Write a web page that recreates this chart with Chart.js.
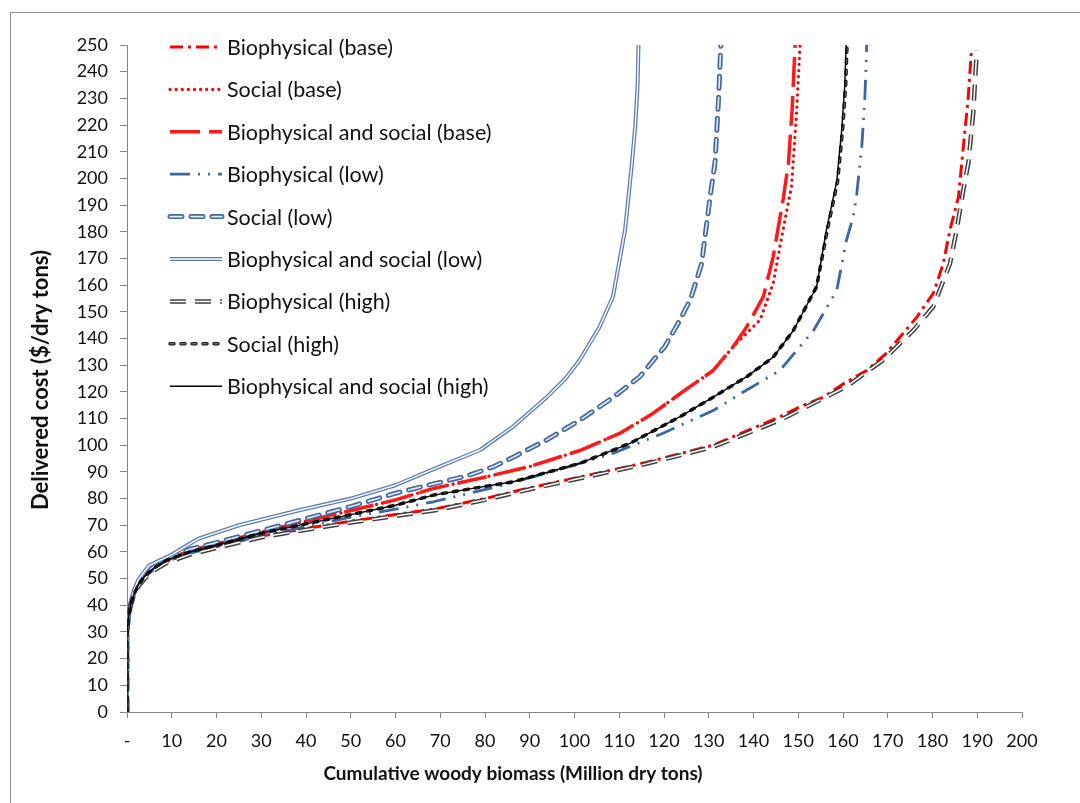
<!DOCTYPE html>
<html>
<head>
<meta charset="utf-8">
<script src="https://cdn.jsdelivr.net/npm/chart.js@4.4.1/dist/chart.umd.min.js"></script>
<style>
  body { margin: 0; background: #fff; overflow: hidden; }
  #frame { position: absolute; left: 10px; top: 12px; width: 1200px; height: 1000px; border: 1px solid #8c8c8c; }
  #wrap { position: absolute; left: 0; top: 0; width: 1080px; height: 803px; }
</style>
</head>
<body>
<div id="frame"></div>
<div id="wrap"><canvas id="supply" width="1080" height="803"></canvas></div>
<script>
// cumulative quantity (million dry tons) and delivered cost ($/dry ton)
const bioBaseQty = [0, 0, 0.3, 0.8, 1.5, 2.5, 4, 6, 9, 14, 20, 25, 30, 39, 50, 60, 68.5, 80, 90, 101, 116, 131, 146, 150.4, 155.6, 160.1, 165.3, 169.7, 176.5, 180.2, 182.4, 183.9, 185.8, 186.9, 188, 188.7];
const bioBaseCost = [0, 30, 35, 40, 44, 47.5, 50.5, 53.5, 56.5, 59.5, 62, 64, 66, 68.5, 71.5, 74, 76, 80, 84, 88, 93.5, 100, 110.7, 114.4, 118, 123, 128, 134.5, 148, 157, 168, 180.7, 193, 212, 230.6, 248];

const socBaseQty = [0, 0, 0.3, 0.8, 1.5, 2.5, 4, 6, 9, 14, 20, 30, 40, 50, 60, 68.5, 78.9, 90, 101.2, 110.2, 117.6, 125, 131, 135.5, 141.5, 144.4, 146.3, 148.5, 149.6, 150.4];
const socBaseCost = [0, 30, 35, 40, 44, 47.5, 51, 54, 57, 60.5, 63, 67.5, 71.5, 75.5, 79.5, 83.8, 87.6, 92, 98, 104.5, 112, 121, 128, 137, 147, 160.7, 178, 197, 224, 250];

const bsBaseQty = [0, 0, 0.3, 0.8, 1.5, 2.5, 4, 6, 9, 14, 20, 30, 40, 50, 60, 68.5, 78.9, 90, 101.2, 110.2, 117.6, 125, 131, 135.5, 138.5, 142.2, 144.4, 146.7, 147.8, 148.6, 149.3];
const bsBaseCost = [0, 30, 35, 40, 44, 47.5, 51, 54, 57, 60.5, 63, 67.5, 71.5, 75.5, 79.5, 83.8, 87.6, 92, 98, 104.5, 112, 121, 128, 137, 144.4, 155.7, 170.6, 193, 205.6, 225, 250];

const bioLowQty = [0, 0, 0.3, 0.8, 1.5, 2.5, 4, 6, 9, 14, 20, 30, 40, 50, 60, 68.5, 82.6, 93.8, 108.7, 119.8, 131, 138.5, 145.9, 153.4, 158.6, 160.8, 162.3, 163, 164.2, 164.9, 165.3];
const bioLowCost = [0, 30, 35, 40, 44, 47.5, 50.5, 53.5, 56.5, 59.5, 62, 66, 69.5, 73, 76, 78.8, 84.4, 89.5, 97, 104.5, 113, 120.7, 128, 143, 158, 177, 185.7, 193, 212, 230.6, 250];

const socLowQty = [0, 0, 0.3, 0.8, 1.5, 2.5, 4, 6, 9, 14, 20, 30, 40, 50, 60, 68.5, 76, 82, 86.3, 93.8, 101.2, 108.7, 114.6, 120.2, 123.6, 126, 128.4, 130.3, 131.4, 132.2, 132.7];
const socLowCost = [0, 30, 35, 40, 44.5, 48, 51.5, 54.5, 57.5, 61, 63.5, 68, 72.5, 77, 82, 85.5, 88.5, 92, 95.5, 102, 109.4, 118, 125.7, 137, 147, 155, 168, 193, 206, 230, 250];

const bsLowQty = [0, 0, 0.3, 0.8, 1.5, 2.5, 5, 10, 16, 25, 38.7, 50, 60, 68.5, 78.9, 86.3, 93.8, 98, 101.2, 105.5, 108.6, 111.3, 112.8, 113.6, 114.1, 114.3];
const bsLowCost = [0, 30, 35, 41, 45.5, 49.5, 55, 59, 65, 70, 75.7, 80, 85, 91, 98.2, 107, 118, 125, 132, 144, 155.7, 180.7, 205, 220, 235, 250];

const bioHighQty = [0, 0, 0.3, 0.8, 1.5, 2.5, 4, 6, 9, 14, 20, 25, 30, 39, 50, 60, 68.5, 80, 90, 101, 116, 131, 145.9, 153.4, 160.8, 169, 175.7, 180.2, 183.9, 185.4, 186.9, 188, 189.1, 189.9];
const bioHighCost = [0, 30, 35, 40, 43.5, 47, 50, 53, 56, 59, 61.5, 63.5, 65.5, 68, 71, 73.5, 75.5, 79.5, 83.5, 87.5, 93, 99.4, 109.4, 115.7, 122, 132, 143, 152, 168, 180.7, 195.7, 205.6, 224.4, 248];

const socHighQty = [0, 0, 0.3, 0.8, 1.5, 2.5, 4, 6, 9, 14, 20, 30, 40, 50, 60, 68.5, 78, 86.3, 101.2, 112.4, 123.6, 131, 138.5, 144.4, 148.9, 154.1, 156.5, 158.8, 159.9, 160.6, 160.9];
const socHighCost = [0, 30, 35, 40, 44, 47.5, 51, 54, 57, 60, 62.5, 67, 70.5, 74, 77.5, 81.3, 84, 86.3, 93.2, 100.7, 110.7, 118, 125.7, 133, 143, 159.4, 180.7, 199, 218, 235, 250];

const bsHighQty = [0, 0, 0.3, 0.8, 1.5, 2.5, 4, 6, 9, 14, 20, 30, 40, 50, 60, 68.5, 78, 86.3, 101.2, 112.4, 123.6, 131, 138.5, 144.4, 148.9, 154.1, 156.3, 158.6, 159.7, 160.4, 160.7];
const bsHighCost = [0, 30, 35, 40, 44, 47.5, 51, 54, 57, 60, 62.5, 67, 70.5, 74, 77.5, 81.3, 84, 86.3, 93.2, 100.7, 110.7, 118, 125.7, 133, 143, 159.4, 180.7, 199, 218, 235, 250];

const xTicks = [0, 10, 20, 30, 40, 50, 60, 70, 80, 90, 100, 110, 120, 130, 140, 150, 160, 170, 180, 190, 200];
const yTicks = [0, 10, 20, 30, 40, 50, 60, 70, 80, 90, 100, 110, 120, 130, 140, 150, 160, 170, 180, 190, 200, 210, 220, 230, 240, 250];

const xTitle = 'Cumulative woody biomass (Million dry tons)';
const yTitle = 'Delivered cost ($/dry tons)';

const FONT = 'Lato, "Open Sans", sans-serif';

function pts(q, c) {
    return q.map((v, i) => ({ x: v, y: c[i] }));
}

// series styles, legend order
const series = [
    { label: 'Biophysical (base)', q: bioBaseQty, c: bioBaseCost, color: '#ff0000', width: 3, dash: [13, 5, 3, 5] },
    { label: 'Social (base)', q: socBaseQty, c: socBaseCost, color: '#ff0000', width: 3.2, dash: [0.1, 6], cap: 'round' },
    { label: 'Biophysical and social (base)', q: bsBaseQty, c: bsBaseCost, color: '#ff1a1a', width: 3.5, dash: [30, 9] },
    { label: 'Biophysical (low)', q: bioLowQty, c: bioLowCost, color: '#3a66a3', width: 2.8, dash: [20, 8, 2, 8, 2, 8] },
    { label: 'Social (low)', q: socLowQty, c: socLowCost, color: '#44699f', width: 5, dash: [12, 9], cap: 'round', inner: '#e4ecf7', innerWidth: 1.6 },
    { label: 'Biophysical and social (low)', q: bsLowQty, c: bsLowCost, color: '#5b7db5', width: 4, inner: '#ffffff', innerWidth: 1.4 },
    { label: 'Biophysical (high)', q: bioHighQty, c: bioHighCost, color: '#404040', width: 4.5, dash: [16, 9], inner: '#ffffff', innerWidth: 1.5 },
    { label: 'Social (high)', q: socHighQty, c: socHighCost, color: '#151515', width: 3.5, dash: [4, 7], cap: 'round', inner: '#9a9a9a', innerWidth: 1 },
    { label: 'Biophysical and social (high)', q: bsHighQty, c: bsHighCost, color: '#000000', width: 1.4 }
];

const datasets = [];
series.forEach((s, i) => {
    datasets.push({
        label: s.label,
        data: pts(s.q, s.c),
        borderColor: s.color,
        borderWidth: s.width,
        borderDash: s.dash || [],
        borderCapStyle: s.cap || 'butt',
        borderJoinStyle: 'round',
        pointRadius: 0,
        fill: false,
        tension: 0,
        order: 40 - i * 2
    });
    if (s.inner) {
        // white/light core of Excel's double line
        datasets.push({
            label: s.label,
            inner: true,
            data: pts(s.q, s.c),
            borderColor: s.inner,
            borderWidth: s.innerWidth,
            borderDash: s.dash || [],
            borderCapStyle: s.cap || 'butt',
            borderJoinStyle: 'round',
            pointRadius: 0,
            fill: false,
            tension: 0,
            order: 39 - i * 2
        });
    }
});

// legend drawn inside the plot + axis titles placed like the original
const insideLegend = {
    id: 'insideLegend',
    afterDraw(chart) {
        const ctx = chart.ctx;
        ctx.save();
        series.forEach((s, i) => {
            const y = 47 + i * 42.4;
            const x0 = 170, x1 = 222;
            ctx.beginPath();
            ctx.setLineDash(s.dash || []);
            ctx.lineCap = s.cap || 'butt';
            ctx.strokeStyle = s.color;
            ctx.lineWidth = s.width;
            ctx.moveTo(x0, y);
            ctx.lineTo(x1, y);
            ctx.stroke();
            if (s.inner) {
                ctx.strokeStyle = s.inner;
                ctx.lineWidth = s.innerWidth;
                ctx.stroke();
            }
            ctx.setLineDash([]);
            ctx.fillStyle = '#111';
            ctx.font = '21.5px ' + FONT;
            ctx.textBaseline = 'middle';
            ctx.textAlign = 'left';
            ctx.fillText(s.label, 227, y + 1);
        });

        ctx.fillStyle = '#111';
        ctx.textAlign = 'center';
        ctx.textBaseline = 'middle';
        ctx.font = 'bold 19px ' + FONT;
        ctx.fillText(xTitle, 513, 774);
        ctx.translate(41, 380);
        ctx.rotate(-Math.PI / 2);
        ctx.font = 'bold 22px ' + FONT;
        ctx.fillText(yTitle, 0, 0);
        ctx.restore();
    }
};

const ctx = document.getElementById('supply').getContext('2d');
const supplyChart = new Chart(ctx, {
    type: 'line',
    data: { datasets: datasets },
    options: {
        responsive: false,
        animation: false,
        devicePixelRatio: 1,
        layout: { padding: { left: 0, top: 45, right: 58, bottom: 0 } },
        scales: {
            x: {
                type: 'linear',
                min: 0,
                max: 200,
                afterFit: (scale) => { scale.height = 91; },
                afterBuildTicks: (scale) => { scale.ticks = xTicks.map(v => ({ value: v })); },
                grid: { drawOnChartArea: false, drawTicks: true, tickLength: 6, color: '#868686' },
                border: { color: '#868686', width: 1 },
                ticks: {
                    padding: 12,
                    maxRotation: 0,
                    autoSkip: false,
                    color: '#111',
                    font: { family: FONT, size: 18 },
                    callback: (v) => v === 0 ? '-' : v
                }
            },
            y: {
                min: 0,
                max: 250,
                afterFit: (scale) => { scale.width = 127; },
                afterBuildTicks: (scale) => { scale.ticks = yTicks.map(v => ({ value: v })); },
                grid: { drawOnChartArea: false, drawTicks: true, tickLength: 7, color: '#868686' },
                border: { color: '#868686', width: 1 },
                ticks: {
                    padding: 12,
                    autoSkip: false,
                    color: '#111',
                    font: { family: FONT, size: 18 }
                }
            }
        },
        plugins: {
            legend: { display: false },
            tooltip: { enabled: false }
        }
    },
    plugins: [insideLegend]
});
</script>
</body>
</html>
